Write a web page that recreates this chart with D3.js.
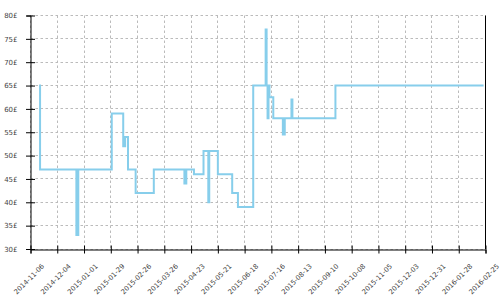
<!DOCTYPE html>
<html>
<head>
<meta charset="utf-8">
<script src="https://cdnjs.cloudflare.com/ajax/libs/d3/7.8.5/d3.min.js"></script>
<style>
  body { margin: 0; background: #fff; }
  .axis text { font-family: "DejaVu Sans", sans-serif; font-size: 7px; fill: #444; }
  .axis--x text { font-size: 6.8px; }
  .axis path, .axis line { stroke: #000; }
  .grid line { stroke: #bbb; stroke-dasharray: 2.5,2.5; }
</style>
</head>
<body>
<div id="price_chart"></div>
<script>
// price history (step after)
var priceDates = ["2014-11-15","2014-11-16","2014-12-24","2014-12-26","2015-01-30","2015-02-11","2015-02-13",
  "2015-02-16","2015-02-24","2015-03-15","2015-04-16","2015-04-18","2015-04-26","2015-05-06","2015-05-11",
  "2015-05-12","2015-05-21","2015-06-05","2015-06-11","2015-06-27","2015-07-10","2015-07-11","2015-07-12",
  "2015-07-13","2015-07-14","2015-07-18","2015-07-28","2015-07-30","2015-08-06","2015-08-07","2015-09-21",
  "2016-02-23"];
var priceValues = [65,47,33,47,59,52,54,47,42,47,44,47,46,51,40,51,46,42,39,65,77,65,58,65,62.5,58,54.5,58,62,58,65,65];

var xTickLabels = ["2014-11-06","2014-12-04","2015-01-01","2015-01-29","2015-02-26","2015-03-26","2015-04-23",
  "2015-05-21","2015-06-18","2015-07-16","2015-08-13","2015-09-10","2015-10-08","2015-11-05","2015-12-03",
  "2015-12-31","2016-01-28","2016-02-25"];
var yTicks = [30,35,40,45,50,55,60,65,70,75,80];

var parseDate = d3.timeParse("%Y-%m-%d");

var prices = [];
for (var i = 0; i < priceDates.length; i++) {
  prices.push({date: parseDate(priceDates[i]), price: priceValues[i]});
}
var xTicks = xTickLabels.map(parseDate);

var margin = {top: 15, right: 15, bottom: 51.5, left: 30},
    width = 500 - margin.left - margin.right,
    height = 300 - margin.top - margin.bottom;

var x = d3.scaleTime()
    .domain([xTicks[0], xTicks[xTicks.length - 1]])
    .range([0, width]);

var y = d3.scaleLinear()
    .domain([30, 80])
    .range([height, 0]);

var svg = d3.select("#price_chart").append("svg")
    .attr("width", 500)
    .attr("height", 300)
  .append("g")
    .attr("transform", "translate(" + (margin.left + 0.5) + "," + (margin.top + 0.5) + ")");

// grid
svg.append("g")
    .attr("class", "grid")
    .selectAll("line.h")
    .data(yTicks)
    .enter().append("line")
      .attr("x1", 0).attr("x2", width)
      .attr("y1", function(d) { return Math.round(y(d)); })
      .attr("y2", function(d) { return Math.round(y(d)); });

svg.append("g")
    .attr("class", "grid")
    .selectAll("line.v")
    .data(xTicks)
    .enter().append("line")
      .attr("y1", 0).attr("y2", height)
      .attr("x1", function(d) { return Math.round(x(d)); })
      .attr("x2", function(d) { return Math.round(x(d)); });

// axes
var xAxis = svg.append("g")
    .attr("class", "axis axis--x")
    .attr("transform", "translate(0," + Math.round(height) + ")")
    .call(d3.axisBottom(x).tickValues(xTicks).tickFormat(d3.timeFormat("%Y-%m-%d")).tickSizeOuter(0).tickSize(4));

xAxis.selectAll(".tick line").attr("y1", -4).attr("y2", 4);
xAxis.selectAll(".tick text")
    .attr("text-anchor", "middle")
    .attr("y", 0)
    .attr("dy", "0.35em")
    .attr("transform", "translate(-2,29.5) rotate(-45)");

var yAxis = svg.append("g")
    .attr("class", "axis axis--y")
    .call(d3.axisLeft(y).tickValues(yTicks).tickFormat(function(d) { return d + "£"; }).tickSizeOuter(0).tickSize(4));

yAxis.selectAll(".tick line").attr("x1", -4.5).attr("x2", 4.5);
yAxis.selectAll(".tick text").attr("x", -13);

svg.append("line")
    .attr("x1", width).attr("x2", width)
    .attr("y1", 0).attr("y2", height)
    .attr("stroke", "#000");

// price line
var line = d3.line()
    .curve(d3.curveStepAfter)
    .x(function(d) { return x(d.date); })
    .y(function(d) { return y(d.price); });

svg.append("path")
    .datum(prices)
    .attr("fill", "none")
    .attr("stroke", "#87ceeb")
    .attr("stroke-width", 2)
    .attr("d", line);
</script>
</body>
</html>
